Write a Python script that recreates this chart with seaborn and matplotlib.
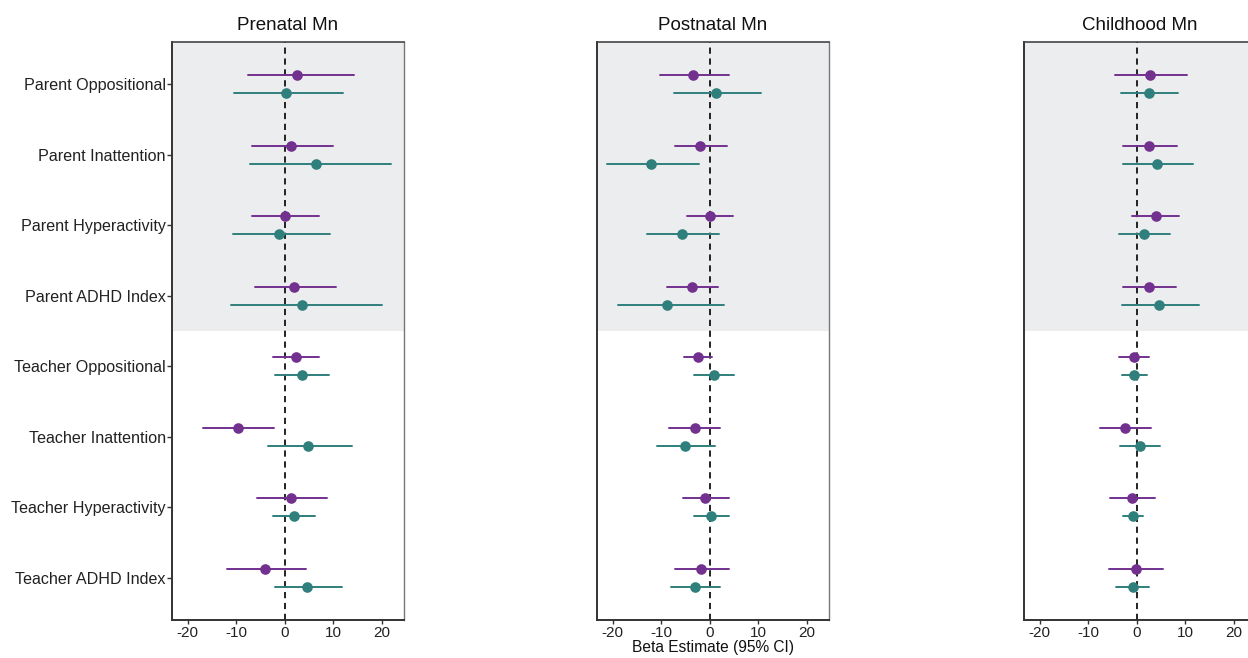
import numpy as np
import pandas as pd
import matplotlib
matplotlib.use("Agg")
import matplotlib.pyplot as plt
import seaborn as sns

outcomes = ["Parent Oppositional", "Parent Inattention", "Parent Hyperactivity", "Parent ADHD Index",
            "Teacher Oppositional", "Teacher Inattention", "Teacher Hyperactivity", "Teacher ADHD Index"]
panels = ["Prenatal Mn", "Postnatal Mn", "Childhood Mn"]
groups = ["A", "B"]  # purple (upper), teal (lower)

# estimates and 95% CI per panel, per group, per outcome
prenatal_A_est = [2.6, 1.4, 0.0, 1.9, 2.3, -9.7, 1.4, -4.0]
prenatal_A_lo = [-7.6, -6.8, -6.7, -6.2, -2.4, -16.8, -5.6, -11.8]
prenatal_A_hi = [14.3, 9.9, 7.0, 10.5, 7.1, -2.2, 8.8, 4.4]
prenatal_B_est = [0.3, 6.5, -1.2, 3.5, 3.5, 4.9, 2.0, 4.6]
prenatal_B_lo = [-10.5, -7.1, -10.6, -11.0, -2.0, -3.4, -2.4, -2.0]
prenatal_B_hi = [12.1, 21.9, 9.4, 20.1, 9.1, 13.8, 6.3, 11.8]

postnatal_A_est = [-3.4, -1.9, 0.0, -3.6, -2.3, -3.1, -0.9, -1.8]
postnatal_A_lo = [-10.2, -7.2, -4.6, -8.8, -5.3, -8.3, -5.5, -7.1]
postnatal_A_hi = [4.0, 3.6, 4.8, 1.8, 0.55, 2.1, 4.0, 3.9]
postnatal_B_est = [1.4, -12.1, -5.7, -8.7, 1.0, -5.1, 0.3, -3.0]
postnatal_B_lo = [-7.3, -21.1, -13.0, -18.9, -3.3, -10.9, -3.2, -8.0]
postnatal_B_hi = [10.5, -2.1, 2.0, 2.9, 5.0, 1.2, 4.0, 2.1]

childhood_A_est = [2.8, 2.6, 3.9, 2.6, -0.5, -2.4, -1.0, -0.2]
childhood_A_lo = [-4.5, -2.9, -0.9, -2.8, -3.6, -7.5, -5.5, -5.7]
childhood_A_hi = [10.3, 8.3, 8.8, 8.1, 2.5, 2.9, 3.7, 5.4]
childhood_B_est = [2.5, 4.2, 1.6, 4.7, -0.5, 0.7, -0.8, -0.8]
childhood_B_lo = [-3.3, -2.9, -3.6, -3.1, -3.1, -3.4, -2.9, -4.2]
childhood_B_hi = [8.5, 11.6, 6.8, 12.9, 2.1, 4.8, 1.3, 2.5]

xticks = [-20, -10, 0, 10, 20]

panel_data = {
    "Prenatal Mn": {"A": (prenatal_A_lo, prenatal_A_est, prenatal_A_hi),
                    "B": (prenatal_B_lo, prenatal_B_est, prenatal_B_hi)},
    "Postnatal Mn": {"A": (postnatal_A_lo, postnatal_A_est, postnatal_A_hi),
                     "B": (postnatal_B_lo, postnatal_B_est, postnatal_B_hi)},
    "Childhood Mn": {"A": (childhood_A_lo, childhood_A_est, childhood_A_hi),
                     "B": (childhood_B_lo, childhood_B_est, childhood_B_hi)},
}

sns.set_theme(style="white")
plt.rcParams["font.family"] = ["Liberation Sans", "DejaVu Sans"]

palette = {"A": "#72308f", "B": "#2f7f7c"}

fig = plt.figure(figsize=(12.48, 6.58), dpi=100)
lefts = [172 / 1248, 597 / 1248, 1024 / 1248]
width = 232 / 1248
bottom = 1 - 620 / 658
height = (620 - 42) / 658

for i, pname in enumerate(panels):
    ax = fig.add_axes([lefts[i], bottom, width, height])
    rows = []
    for g in groups:
        lo, est, hi = panel_data[pname][g]
        for k, o in enumerate(outcomes):
            for v in (lo[k], est[k], hi[k]):
                rows.append({"outcome": o, "group": g, "value": v})
    df = pd.DataFrame(rows)

    ax.axhspan(-0.6, 3.5, color="#ecedee", zorder=0, lw=0)
    ax.axvline(0, color="#222222", ls=(0, (3.2, 2.4)), lw=1.4, zorder=1)

    sns.pointplot(data=df, x="value", y="outcome", hue="group", order=outcomes,
                  hue_order=groups, palette=palette, estimator="median",
                  errorbar=("pi", 100), dodge=0.25, linestyle="none",
                  markers="o", markersize=5.6, err_kws={"linewidth": 1.4},
                  legend=False, ax=ax, zorder=3)

    ax.set_xlim(-23.2, 24.6)
    ax.set_ylim(7.6, -0.6)
    ax.set_xticks(xticks)
    ax.set_xticklabels([str(t) for t in xticks], fontsize=11, color="#222222")
    ax.set_title(pname, fontsize=13.5, pad=9, color="#111111")
    ax.set_ylabel("")
    if i == 0:
        ax.set_yticks(range(len(outcomes)))
        ax.set_yticklabels(outcomes, fontsize=11.6, color="#222222")
    else:
        ax.set_yticks(range(len(outcomes)))
        ax.set_yticklabels([])
        ax.tick_params(axis="y", length=0)
    if i == 1:
        ax.set_xlabel("Beta Estimate (95% CI)", fontsize=11.2, labelpad=0, color="#111111")
    else:
        ax.set_xlabel("")
    ax.tick_params(axis="x", length=3, width=1, color="#333333", pad=1.5, bottom=True)
    if i == 0:
        ax.tick_params(axis="y", length=3.5, width=1, color="#333333", pad=1, left=True)
    for s in ["left", "bottom"]:
        ax.spines[s].set_color("#333333")
        ax.spines[s].set_linewidth(1.4)
    for s in ["top"]:
        ax.spines[s].set_color("#444444")
        ax.spines[s].set_linewidth(1.2)
    ax.spines["right"].set_color("#777777")
    ax.spines["right"].set_linewidth(1.0)
    ax.set_facecolor("white")

fig.savefig("out.png", dpi=100)
